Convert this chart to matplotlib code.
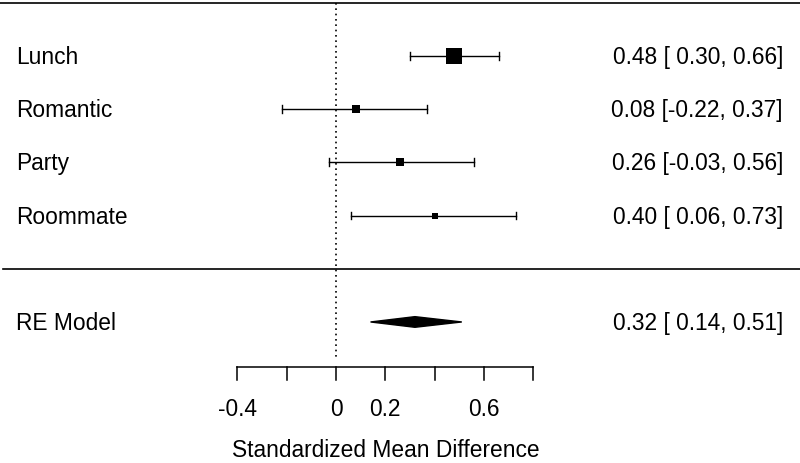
import numpy as np
import matplotlib
matplotlib.use("Agg")
import matplotlib.pyplot as plt
from matplotlib.patches import Polygon

plt.rcParams['font.family'] = ['Liberation Sans', 'DejaVu Sans']

studies = ["Lunch", "Romantic", "Party", "Roommate"]
est = [0.48, 0.08, 0.26, 0.40]
lower = [0.30, -0.22, -0.03, 0.06]
upper = [0.66, 0.37, 0.56, 0.73]

model_label = "RE Model"
model_est = 0.32
model_lower = 0.14
model_upper = 0.51

xticks = [-0.4, -0.2, 0, 0.2, 0.4, 0.6, 0.8]
xticklabels = ["-0.4", "", "0", "0.2", "", "0.6", ""]
xlabel = "Standardized Mean Difference"

FS = 16.4


def fmt(v):
    s = "%.2f" % v
    return s if v < 0 else " " + s


def main():
    fig = plt.figure(figsize=(8, 4.63), dpi=100)
    ax = fig.add_axes([0, 0, 1, 1])
    ax.set_xlim(-1.362, 1.881)
    ax.set_ylim(-3.65, 5.05)
    ax.axis("off")

    rows = np.arange(len(studies), 0, -1)

    # point sizes as in metafor (scaled precision)
    se = (np.array(upper) - np.array(lower)) / 3.92
    wi = 1 / se
    ps = wi / wi.sum()
    ps = (ps - ps.min()) / (ps.max() - ps.min()) + 0.5
    msize = ps * 7.7

    cap = 0.072
    for i, r in enumerate(rows):
        ax.plot([lower[i], upper[i]], [r, r], color="black", lw=1)
        ax.plot([lower[i], lower[i]], [r - cap, r + cap], color="black", lw=1)
        ax.plot([upper[i], upper[i]], [r - cap, r + cap], color="black", lw=1)
        ax.plot(est[i], r, marker="s", color="black", markersize=msize[i],
                markeredgewidth=0)
        ax.text(-1.296, r - 0.03, studies[i], fontsize=FS, va="center", ha="left")
        ax.text(1.812, r - 0.03, "%.2f [%s,%s]" % (est[i], fmt(lower[i]), fmt(upper[i])),
                fontsize=FS, va="center", ha="right")

    # model diamond
    ym = -1
    h = 0.1
    diamond = Polygon([[model_lower, ym], [model_est, ym + h],
                       [model_upper, ym], [model_est, ym - h]],
                      closed=True, color="black")
    ax.add_patch(diamond)
    ax.text(-1.296, ym - 0.03, model_label, fontsize=FS, va="center", ha="left")
    ax.text(1.812, ym - 0.03, "%.2f [%s,%s]" % (model_est, fmt(model_lower), fmt(model_upper)),
            fontsize=FS, va="center", ha="right")

    # horizontal rules
    ax.axhline(5, color="black", lw=1.2)
    ax.axhline(0, color="black", lw=1.2, xmin=0.004)

    # reference line
    ax.plot([0, 0], [5, -1.72], color="black", lw=1.2, linestyle=(0, (1.0, 2.2)))

    # x axis
    ya = -1.84
    ax.plot([xticks[0], xticks[-1]], [ya, ya], color="black", lw=1.1)
    for t, lab in zip(xticks, xticklabels):
        ax.plot([t, t], [ya, ya - 0.25], color="black", lw=1.1)
        if lab:
            ax.text(t, -2.64, lab, fontsize=FS, ha="center", va="center")
    ax.text(0.2, -3.42, xlabel, fontsize=FS, ha="center", va="center")

    fig.savefig("out.png", dpi=100)


if __name__ == '__main__':
    main()
